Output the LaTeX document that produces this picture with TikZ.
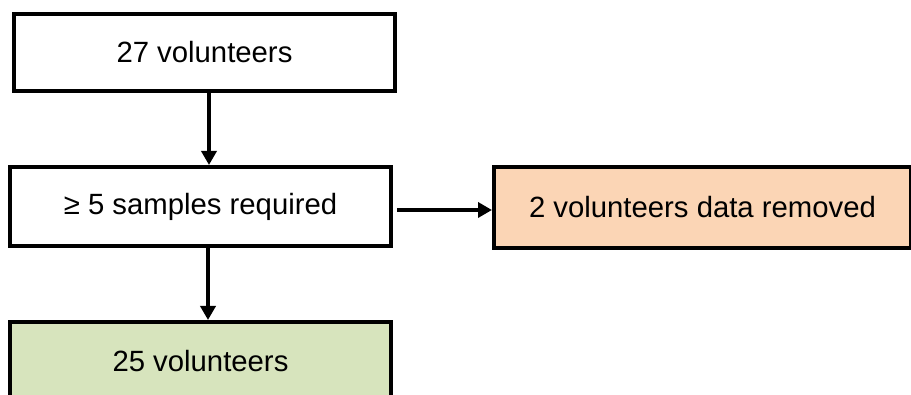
\documentclass[tikz,border=0pt]{standalone}
\usepackage{fontspec}
\setmainfont{Liberation Sans}
\usetikzlibrary{arrows.meta}
\definecolor{orangefill}{HTML}{FBD5B5}
\definecolor{greenfill}{HTML}{D7E4BD}
\begin{document}
\begin{tikzpicture}[x=1pt,y=-1pt,
  box/.style={draw=black, line width=4pt, rectangle, inner sep=0pt,
    font=\fontsize{29.3}{35}\selectfont, text=black},
  arr/.style={line width=4pt, -{Triangle[length=14pt,width=15pt]}}]
\useasboundingbox (0,0) rectangle (911,395);
\clip (0,0) rectangle (911,395);
\fill[white] (0,0) rectangle (911,395);
\node[box, fill=white, minimum width=381pt, minimum height=77pt] (b1) at (204.5,52.5) {27 volunteers};
\node[box, fill=white, minimum width=381pt, minimum height=79pt] (b2) at (200.5,206.5) {≥ 5 samples required};
\node[box, fill=orangefill, minimum width=417pt, minimum height=81pt] (b3) at (702.5,207.5) {2 volunteers data removed};
\node[box, fill=greenfill, minimum width=381pt, minimum height=79pt] (b4) at (200.5,361.5) {25 volunteers};
\coordinate (ax) at (209,0);
\coordinate (bx) at (208,0);
\coordinate (cy) at (0,210);
\draw[arr] (b1.south -| ax) -- (b2.north -| ax);
\draw[arr] (b2.south -| bx) -- (b4.north -| bx);
\draw[arr, shorten <=4pt] (b2.east |- cy) -- (b3.west |- cy);
\end{tikzpicture}
\end{document}
